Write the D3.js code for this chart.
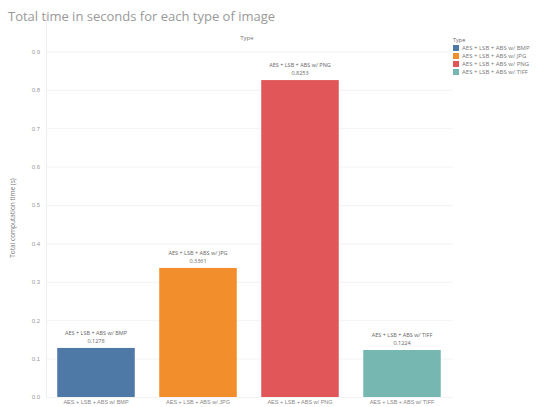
<!DOCTYPE html>
<html>
<head>
<meta charset="utf-8">
<script src="https://cdn.jsdelivr.net/npm/d3@7/dist/d3.min.js"></script>
<style>
  html, body { margin: 0; padding: 0; background: #fff; }
  svg { display: block; font-family: "Open Sans", "DejaVu Sans", sans-serif; }
</style>
</head>
<body>
<svg id="chart" width="552" height="407"></svg>
<script>
// Image types and their total processing time (seconds)
const categories = [
  "AES + LSB + ABS w/ BMP",
  "AES + LSB + ABS w/ JPG",
  "AES + LSB + ABS w/ PNG",
  "AES + LSB + ABS w/ TIFF"
];
const values = [0.1278, 0.3361, 0.8253, 0.1224];
const colors = ["#4e79a7", "#f28e2b", "#e15759", "#76b7b2"];
const yTicks = [0, 0.1, 0.2, 0.3, 0.4, 0.5, 0.6, 0.7, 0.8, 0.9];

const svg = d3.select("#chart");

const x = d3.scaleBand()
  .domain(categories)
  .range([45, 453])
  .paddingInner(0.24)
  .paddingOuter(0.12);

const y = d3.scaleLinear()
  .domain([0, 1])
  .range([397, 13]);

const color = d3.scaleOrdinal().domain(categories).range(colors);

// Title
svg.append("text")
  .attr("x", 8).attr("y", 21)
  .attr("font-size", 13)
  .attr("fill", "#999")
  .text("Total time in seconds for each type of image");

// Column header
svg.append("text")
  .attr("x", 247).attr("y", 40)
  .attr("text-anchor", "middle")
  .attr("font-size", 6)
  .attr("fill", "#777")
  .text("Type");

// Gridlines
svg.append("g")
  .selectAll("line")
  .data(yTicks)
  .join("line")
  .attr("x1", 46).attr("x2", 453)
  .attr("y1", d => y(d) + 0.5).attr("y2", d => y(d) + 0.5)
  .attr("stroke", "#f3f3f3")
  .attr("stroke-width", 1);

// Y axis
const yAxis = svg.append("g")
  .attr("transform", "translate(46,0)")
  .call(d3.axisLeft(y).tickValues(yTicks).tickFormat(d3.format(".1f")).tickSize(0).tickPadding(6));
yAxis.select(".domain").attr("stroke", "#eee");
yAxis.selectAll("text").attr("font-size", 6).attr("fill", "#999");

// Y axis title
svg.append("text")
  .attr("transform", "translate(15,218) rotate(-90)")
  .attr("text-anchor", "middle")
  .attr("font-size", 6.5)
  .attr("fill", "#777")
  .text("Total computation time (s)");

// Bars
svg.append("g")
  .selectAll("rect")
  .data(categories)
  .join("rect")
  .attr("x", d => x(d))
  .attr("y", (d, i) => y(values[i]))
  .attr("width", x.bandwidth())
  .attr("height", (d, i) => y(0) - y(values[i]))
  .attr("fill", d => color(d));

// Value labels above bars
const labels = svg.append("g")
  .selectAll("g")
  .data(categories)
  .join("g")
  .attr("transform", (d, i) => `translate(${x(d) + x.bandwidth() / 2},${y(values[i])})`);
labels.append("text")
  .attr("y", -13)
  .attr("text-anchor", "middle")
  .attr("font-size", 5.5)
  .attr("fill", "#666")
  .text(d => d);
labels.append("text")
  .attr("y", -5)
  .attr("text-anchor", "middle")
  .attr("font-size", 5.5)
  .attr("fill", "#666")
  .text((d, i) => values[i].toFixed(4));

// X axis category labels
const xAxis = svg.append("g")
  .attr("transform", `translate(0,${y(0)})`)
  .call(d3.axisBottom(x).tickSize(0).tickPadding(3));
xAxis.select(".domain").remove();
xAxis.selectAll("text").attr("font-size", 5.5).attr("fill", "#888");

// Legend
const legend = svg.append("g").attr("transform", "translate(453,0)");
legend.append("text")
  .attr("x", 0).attr("y", 42)
  .attr("font-size", 5.5)
  .attr("fill", "#666")
  .text("Type");
const items = legend.selectAll("g.item")
  .data(categories)
  .join("g")
  .attr("class", "item")
  .attr("transform", (d, i) => `translate(0,${48 + i * 8})`);
items.append("rect")
  .attr("x", 0).attr("y", -3)
  .attr("width", 6).attr("height", 6)
  .attr("fill", d => color(d));
items.append("text")
  .attr("x", 9).attr("y", 2)
  .attr("font-size", 6)
  .attr("fill", "#777")
  .text(d => d);
</script>
</body>
</html>
